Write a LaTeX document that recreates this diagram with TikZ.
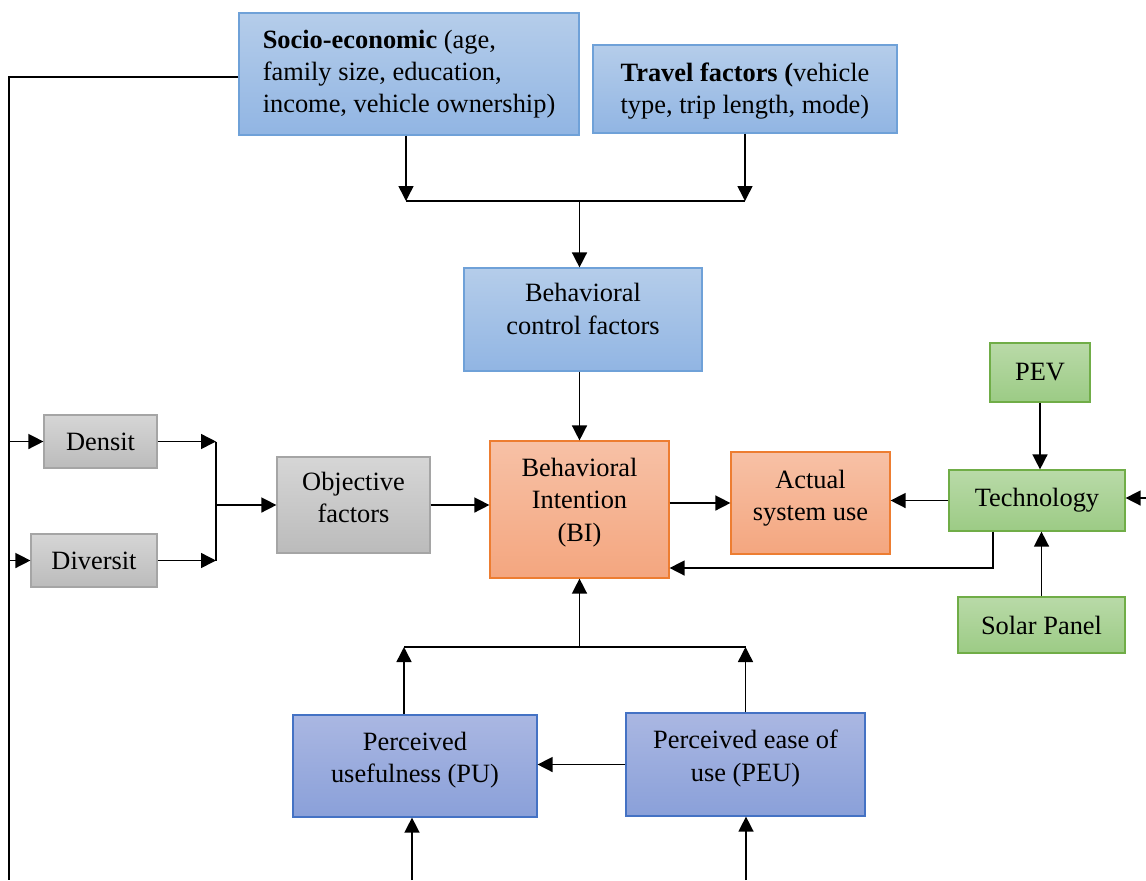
\documentclass[tikz,border=0pt]{standalone}
\usepackage{fontspec}
\setmainfont{Liberation Serif}
\usetikzlibrary{arrows.meta}
\definecolor{bluetop}{HTML}{B5CDEA}
\definecolor{bluebot}{HTML}{91B5E3}
\definecolor{blueline}{HTML}{6FA1D8}
\definecolor{graytop}{HTML}{D6D6D6}
\definecolor{graybot}{HTML}{BBBBBB}
\definecolor{grayline}{HTML}{A5A5A5}
\definecolor{orangetop}{HTML}{F7C1A6}
\definecolor{orangebot}{HTML}{F4A67F}
\definecolor{orangeline}{HTML}{ED7D31}
\definecolor{greentop}{HTML}{B9DAA8}
\definecolor{greenbot}{HTML}{9CCB85}
\definecolor{greenline}{HTML}{70AD47}
\definecolor{purptop}{HTML}{AAB7E2}
\definecolor{purpbot}{HTML}{8AA0D9}
\definecolor{purpline}{HTML}{4472C4}
\newcommand{\liftc}[2]{\raisebox{#1}[\height][\depth]{\begin{tabular}{@{}c@{}}#2\end{tabular}}}
\newcommand{\liftl}[2]{\raisebox{#1}[\height][\depth]{\begin{tabular}{@{}l@{}}#2\end{tabular}}}
\tikzset{
  box/.style={draw, line width=0.6pt, align=center, inner sep=2pt,
    font=\fontsize{13.2}{16.2}\selectfont, shading=axis, shading angle=0},
  bluebox/.style={box, draw=blueline, top color=bluetop, bottom color=bluebot},
  graybox/.style={box, draw=grayline, top color=graytop, bottom color=graybot},
  orangebox/.style={box, draw=orangeline, top color=orangetop, bottom color=orangebot},
  greenbox/.style={box, draw=greenline, top color=greentop, bottom color=greenbot},
  purpbox/.style={box, draw=purpline, top color=purptop, bottom color=purpbot},
  conn/.style={line width=0.75pt, black},
  arr/.style={conn, -{Triangle[length=7.5pt,width=7.5pt]}}
}
\begin{document}
\begin{tikzpicture}[x=0.5pt,y=-0.5pt]
\useasboundingbox (0,0) rectangle (1146,880);
% nodes
\node[bluebox, minimum width=170pt, minimum height=61pt] (socio) at (409,74)
  {\liftl{0pt}{\textbf{Socio-economic} (age,\\family size, education,\\income, vehicle ownership)}};
\node[bluebox, minimum width=152pt, minimum height=44pt] (travel) at (745,89)
  {\liftl{-1pt}{\textbf{Travel factors (}vehicle\\type, trip length, mode)}};
\node[bluebox, minimum width=119pt, minimum height=51.5pt] (bc) at (583,319.5)
  {\liftc{4pt}{Behavioral\\control factors}};
\node[graybox, minimum width=56.5pt, minimum height=26.5pt] (densit) at (100.5,441.5) {Densit};
\node[graybox, minimum width=63pt, minimum height=26.5pt] (diversit) at (94,560.5) {Diversit};
\node[graybox, minimum width=76.5pt, minimum height=48pt] (objective) at (353.5,505)
  {\liftc{2.5pt}{Objective\\factors}};
\node[orangebox, minimum width=89.5pt, minimum height=68.5pt] (bi) at (579.5,509.5)
  {\liftc{3.5pt}{Behavioral\\Intention\\(BI)}};
\node[orangebox, minimum width=79.5pt, minimum height=51pt] (actual) at (810.5,503)
  {\liftc{2.5pt}{Actual\\system use}};
\node[greenbox, minimum width=50pt, minimum height=29.5pt] (pev) at (1040,372.5) {PEV};
\node[greenbox, minimum width=88pt, minimum height=30.5pt] (tech) at (1037,500.5) {Technology};
\node[greenbox, minimum width=83.5pt, minimum height=28pt] (solar) at (1041.5,625) {Solar Panel};
\node[purpbox, minimum width=122pt, minimum height=51pt] (pu) at (415,766)
  {\liftc{3pt}{Perceived\\usefulness (PU)}};
\node[purpbox, minimum width=119.5pt, minimum height=51.5pt] (peu) at (745.5,764.5)
  {\liftc{3pt}{Perceived ease of\\use (PEU)}};
% helper coordinates
\coordinate (lbot) at (9,880);
\coordinate (j1) at (216,0);
\coordinate (hy) at (0,201);
\coordinate (by) at (0,647);
\coordinate (fb) at (0,568);
\coordinate (ly) at (0,77);
\coordinate (rin) at (1146,498);
\coordinate (b1) at (412,880);
\coordinate (b2) at (746,880);
% left feed
\draw[conn] (socio.west |- ly) -| (lbot);
\draw[arr] (densit.west -| lbot) -- (densit.west);
\draw[arr] (diversit.west -| lbot) -- (diversit.west);
% objective factors group
\draw[arr] (densit.east) -- (densit.east -| j1);
\draw[arr] (diversit.east) -- (diversit.east -| j1);
\draw[conn] (densit.east -| j1) -- (diversit.east -| j1);
\draw[arr] (objective.west -| j1) -- (objective.west);
\draw[arr] (objective.east) -- (objective.east -| bi.west);
% top group
\draw[arr] ([xshift=-1.5pt]socio.south) -- ([xshift=-1.5pt]socio.south |- hy);
\draw[arr] (travel.south) -- (travel.south |- hy);
\draw[conn] ([xshift=-1.5pt]socio.south |- hy) -- (travel.south |- hy);
\draw[arr] (bi.north |- hy) -- (bi.north |- bc.north);
\draw[arr] (bi.north |- bc.south) -- (bi.north);
% BI and actual use
\draw[arr] (bi.east |- actual.west) -- (actual.west);
\draw[arr] (tech.west) -- (actual.east |- tech.west);
\draw[arr] ([xshift=-22pt]tech.south) |- (bi.east |- fb);
\draw[arr] (pev.south) -- (pev.south |- tech.north);
\draw[arr] (solar.north) -- (solar.north |- tech.south);
\draw[arr] (rin) -- (rin -| tech.east);
% bottom group
\draw[arr] ([xshift=-5.5pt]pu.north) -- ([xshift=-5.5pt]pu.north |- by);
\draw[arr] (peu.north) -- (peu.north |- by);
\draw[conn] ([xshift=-5.5pt]pu.north |- by) -- (peu.north |- by);
\draw[arr] (bi.south |- by) -- (bi.south);
\draw[arr] (peu.west) -- (pu.east |- peu.west);
\draw[arr] (b1) -- (b1 |- pu.south);
\draw[arr] (b2) -- (b2 |- peu.south);
\end{tikzpicture}
\end{document}
